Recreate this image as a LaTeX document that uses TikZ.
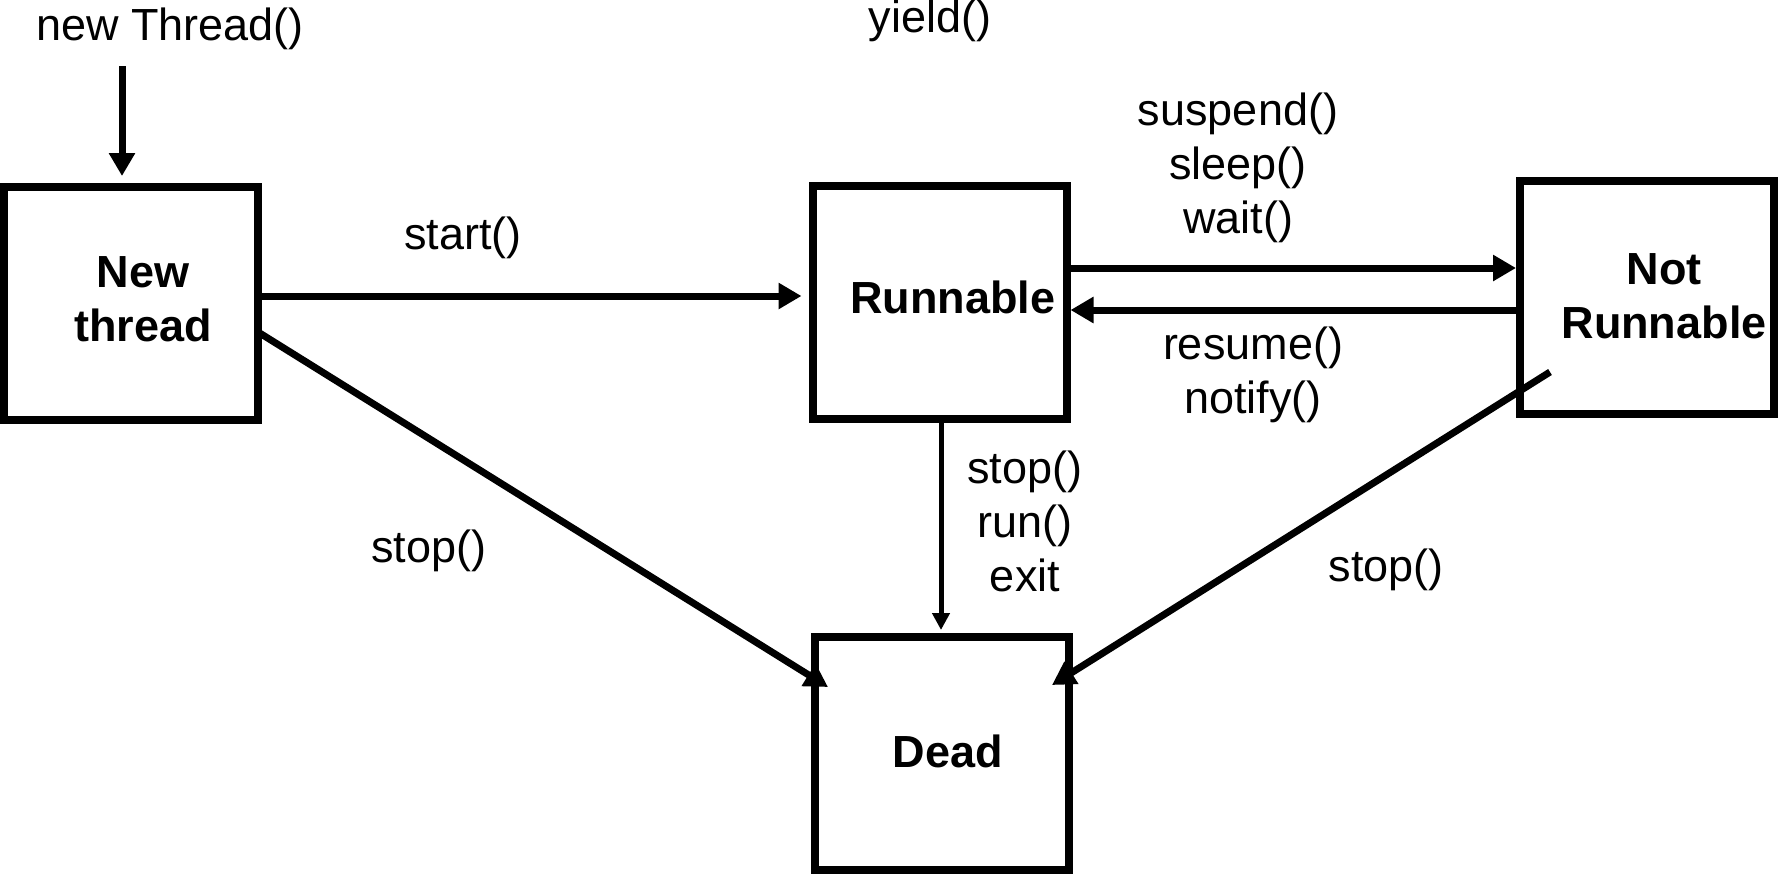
\documentclass[tikz,border=0pt]{standalone}
\usepackage{fontspec}
\setmainfont{Liberation Sans}
\usetikzlibrary{arrows.meta}
\begin{document}
\begin{tikzpicture}[x=0.5pt,y=-0.5pt,
  state/.style={draw, line width=4pt, minimum width=127pt, minimum height=116.5pt, inner sep=0pt, outer sep=0pt},
  lbl/.style={font=\fontsize{22.5}{27}\selectfont, align=center, inner sep=0pt},
  stxt/.style={font=\fontsize{22.5}{27}\selectfont\bfseries, align=center, inner sep=0pt},
  arr/.style={line width=3.5pt, -{Triangle[length=11.5pt,width=12.5pt]}},
  thinarr/.style={line width=2.5pt, -{Triangle[length=8.5pt,width=8.5pt]}}
]
\useasboundingbox (0,0) rectangle (1778,874);

% states
\node[state, label={[stxt,xshift=6pt,yshift=2pt]center:{New\\thread}}] (nt) at (131,303.5) {};
\node[state, label={[stxt,xshift=6.75pt,yshift=2.75pt]center:{Runnable}}] (rn) at (939.5,302.5) {};
\node[state, label={[stxt,xshift=8.5pt,yshift=0.5pt]center:{Not\\Runnable}}] (nr) at (1647,297.5) {};
\node[state, label={[stxt,xshift=3pt,yshift=1.25pt]center:{Dead}}] (dn) at (942,753.5) {};

% labels
\node[lbl] (lnew) at (170,29) {new Thread()};
\node[lbl] (lyield) at (930,21) {yield()};
\node[lbl] (lstart) at (463,238) {start()};
\node[lbl] (lsusp) at (1238,168) {suspend()\\sleep()\\wait()};
\node[lbl] (lres) at (1253,375) {resume()\\notify()};
\node[lbl] (lstop) at (1025,521) {stop()\\run()\\exit};
\node[lbl] (lstopl) at (429,551) {stop()};
\node[lbl] (lstopr) at (1386,570) {stop()};

% connectors
\coordinate (ent) at (122,66);
\draw[arr, shorten >=5.5pt] (ent) -- (ent |- nt.north);

\coordinate (s1) at ([yshift=3.75pt]nt.east);
\draw[arr, shorten >=5.5pt] (s1) -- (s1 -| rn.west);

\coordinate (s2) at ([yshift=17.25pt]rn.east);
\draw[arr, shorten >=2pt] (s2) -- (s2 -| nr.west);

\coordinate (s3) at ([yshift=-6.25pt]nr.west);
\draw[arr, shorten >=2pt] (s3) -- (s3 -| rn.east);

\coordinate (v1) at ([xshift=0.75pt]rn.south);
\draw[thinarr, shorten >=3.5pt] (v1) -- (v1 |- dn.north);

\coordinate (d1) at ([yshift=-14.25pt]nt.east);
\coordinate (d1e) at ([shift={(6.5pt,33.25pt)}]dn.west);
\draw[arr] (d1) -- (d1e);

\coordinate (d2) at ([shift={(15pt,-37.25pt)}]nr.west);
\coordinate (d2e) at ([shift={(-8.5pt,34.25pt)}]dn.east);
\draw[arr] (d2) -- (d2e);
\end{tikzpicture}
\end{document}
